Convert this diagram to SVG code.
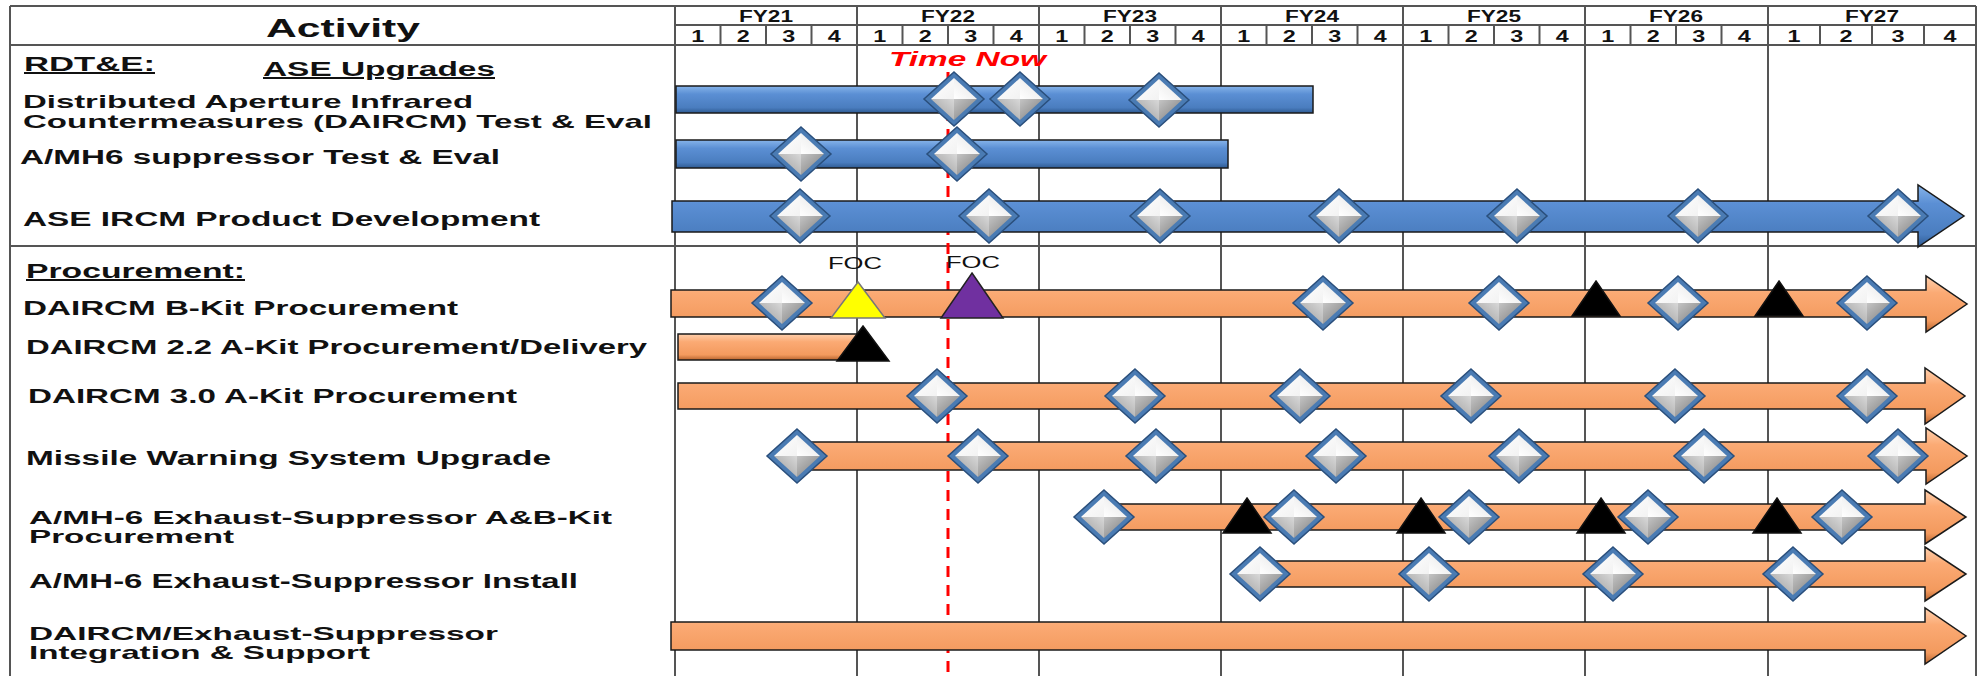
<svg xmlns="http://www.w3.org/2000/svg" xmlns:xlink="http://www.w3.org/1999/xlink" width="1980" height="676" viewBox="0 0 1980 676">
  <defs>
    <style>
      .grid { stroke: #555; stroke-width: 2; fill: none; }
      .qdiv { stroke: #555; stroke-width: 2; }
      .hdr { font-family: "Liberation Sans", Arial, sans-serif; font-weight: bold; fill: #111; }
      .lbl { font-family: "Liberation Sans", Arial, sans-serif; font-weight: bold; font-size: 20px; fill: #111; }
      .ul { text-decoration: underline; }
      .foc { font-family: "Liberation Sans", Arial, sans-serif; font-size: 17px; fill: #111; }
      .now { font-family: "Liberation Sans", Arial, sans-serif; font-weight: bold; font-style: italic; font-size: 21px; fill: #ff0000; }
      .nowline { stroke: #ff0000; stroke-width: 3; stroke-dasharray: 11 8; }
      .blue { fill: url(#gBlue); stroke: #1a1a1a; stroke-width: 1.5; }
      .orange { fill: url(#gOrange); stroke: #1a1a1a; stroke-width: 1.5; }
    </style>
    <linearGradient id="gBlue" x1="0" y1="0" x2="0" y2="1">
      <stop offset="0" stop-color="#86b4ea"/>
      <stop offset="0.3" stop-color="#5b8fd4"/>
      <stop offset="0.8" stop-color="#4a7dbf"/>
      <stop offset="1" stop-color="#2e5a92"/>
    </linearGradient>
    <linearGradient id="gOrange" x1="0" y1="0" x2="0" y2="1">
      <stop offset="0" stop-color="#ffd0ad"/>
      <stop offset="0.3" stop-color="#fbaa74"/>
      <stop offset="0.8" stop-color="#f39a5e"/>
      <stop offset="1" stop-color="#b8642e"/>
    </linearGradient>
    <linearGradient id="gTL" x1="0" y1="0" x2="1" y2="1">
      <stop offset="0" stop-color="#ffffff"/>
      <stop offset="1" stop-color="#f2f2f2"/>
    </linearGradient>
    <linearGradient id="gTR" x1="1" y1="0" x2="0" y2="1">
      <stop offset="0" stop-color="#e3e3e3"/>
      <stop offset="1" stop-color="#ffffff"/>
    </linearGradient>
    <linearGradient id="gBL" x1="0" y1="1" x2="1" y2="0">
      <stop offset="0" stop-color="#9a9a9a"/>
      <stop offset="1" stop-color="#d8d8d8"/>
    </linearGradient>
    <linearGradient id="gBR" x1="1" y1="1" x2="0" y2="0">
      <stop offset="0" stop-color="#7a7a7a"/>
      <stop offset="1" stop-color="#c4c4c4"/>
    </linearGradient>
    <!-- milestone diamond, centred on 0,0 -->
    <g id="dia">
      <polygon points="0,-27 30,0 0,27 -30,0" fill="#4a7bb3" stroke="#2a4f7c" stroke-width="1.5"/>
      <polygon points="0,-21 -23,0 0,0" fill="url(#gTL)"/>
      <polygon points="0,-21 23,0 0,0" fill="url(#gTR)"/>
      <polygon points="-23,0 0,21 0,0" fill="url(#gBL)"/>
      <polygon points="23,0 0,21 0,0" fill="url(#gBR)"/>
    </g>
    <!-- event triangle (fill set per use), apex at 0,0 -->
    <polygon id="tri" points="0,0 24,35 -24,35" stroke="#111" stroke-width="1.5"/>
  </defs>

  <rect x="0" y="0" width="1980" height="676" fill="#ffffff"/>

  <!-- table frame and time axis -->
  <g id="grid">
    <line class="grid" x1="10" y1="6" x2="1976" y2="6"/>
    <line class="grid" x1="10" y1="6" x2="10" y2="676"/>
    <line class="grid" x1="1976" y1="6" x2="1976" y2="676"/>
    <line class="grid" x1="675" y1="6" x2="675" y2="676"/>
    <line class="grid" x1="675" y1="25" x2="1976" y2="25"/>
    <line class="grid" x1="10" y1="45" x2="1976" y2="45"/>
    <line class="grid" x1="10" y1="246" x2="1976" y2="246" stroke="#222" stroke-width="2.5"/>
    <line class="grid" x1="857" y1="6" x2="857" y2="676" stroke="#222"/>
    <line class="grid" x1="1039" y1="6" x2="1039" y2="676"/>
    <line class="grid" x1="1221" y1="6" x2="1221" y2="676" stroke="#222"/>
    <line class="grid" x1="1403" y1="6" x2="1403" y2="676"/>
    <line class="grid" x1="1585" y1="6" x2="1585" y2="676" stroke="#222"/>
    <line class="grid" x1="1768" y1="6" x2="1768" y2="676"/>
    <!-- quarter dividers -->
    <g class="qdiv">
      <line x1="720.5" y1="25" x2="720.5" y2="45"/><line x1="766" y1="25" x2="766" y2="45"/><line x1="811.5" y1="25" x2="811.5" y2="45"/>
      <line x1="902.5" y1="25" x2="902.5" y2="45"/><line x1="948" y1="25" x2="948" y2="45"/><line x1="993.5" y1="25" x2="993.5" y2="45"/>
      <line x1="1084.5" y1="25" x2="1084.5" y2="45"/><line x1="1130" y1="25" x2="1130" y2="45"/><line x1="1175.5" y1="25" x2="1175.5" y2="45"/>
      <line x1="1266.5" y1="25" x2="1266.5" y2="45"/><line x1="1312" y1="25" x2="1312" y2="45"/><line x1="1357.5" y1="25" x2="1357.5" y2="45"/>
      <line x1="1448.5" y1="25" x2="1448.5" y2="45"/><line x1="1494" y1="25" x2="1494" y2="45"/><line x1="1539.5" y1="25" x2="1539.5" y2="45"/>
      <line x1="1630.5" y1="25" x2="1630.5" y2="45"/><line x1="1676" y1="25" x2="1676" y2="45"/><line x1="1721.5" y1="25" x2="1721.5" y2="45"/>
      <line x1="1820" y1="25" x2="1820" y2="45"/><line x1="1872" y1="25" x2="1872" y2="45"/><line x1="1924" y1="25" x2="1924" y2="45"/>
    </g>
    <!-- fiscal years -->
    <g class="hdr" font-size="16" text-anchor="middle">
      <text x="766" y="22" textLength="54" lengthAdjust="spacingAndGlyphs">FY21</text>
      <text x="948" y="22" textLength="54" lengthAdjust="spacingAndGlyphs">FY22</text>
      <text x="1130" y="22" textLength="54" lengthAdjust="spacingAndGlyphs">FY23</text>
      <text x="1312" y="22" textLength="54" lengthAdjust="spacingAndGlyphs">FY24</text>
      <text x="1494" y="22" textLength="54" lengthAdjust="spacingAndGlyphs">FY25</text>
      <text x="1676" y="22" textLength="54" lengthAdjust="spacingAndGlyphs">FY26</text>
      <text x="1872" y="22" textLength="54" lengthAdjust="spacingAndGlyphs">FY27</text>
    </g>
    <!-- quarters: each digit widened to the slide's stretched proportions -->
    <g class="hdr" font-size="17" text-anchor="middle">
      <text x="697.75" y="42" textLength="13" lengthAdjust="spacingAndGlyphs">1</text><text x="743.25" y="42" textLength="13" lengthAdjust="spacingAndGlyphs">2</text><text x="788.75" y="42" textLength="13" lengthAdjust="spacingAndGlyphs">3</text><text x="834.25" y="42" textLength="13" lengthAdjust="spacingAndGlyphs">4</text>
      <text x="879.75" y="42" textLength="13" lengthAdjust="spacingAndGlyphs">1</text><text x="925.25" y="42" textLength="13" lengthAdjust="spacingAndGlyphs">2</text><text x="970.75" y="42" textLength="13" lengthAdjust="spacingAndGlyphs">3</text><text x="1016.25" y="42" textLength="13" lengthAdjust="spacingAndGlyphs">4</text>
      <text x="1061.75" y="42" textLength="13" lengthAdjust="spacingAndGlyphs">1</text><text x="1107.25" y="42" textLength="13" lengthAdjust="spacingAndGlyphs">2</text><text x="1152.75" y="42" textLength="13" lengthAdjust="spacingAndGlyphs">3</text><text x="1198.25" y="42" textLength="13" lengthAdjust="spacingAndGlyphs">4</text>
      <text x="1243.75" y="42" textLength="13" lengthAdjust="spacingAndGlyphs">1</text><text x="1289.25" y="42" textLength="13" lengthAdjust="spacingAndGlyphs">2</text><text x="1334.75" y="42" textLength="13" lengthAdjust="spacingAndGlyphs">3</text><text x="1380.25" y="42" textLength="13" lengthAdjust="spacingAndGlyphs">4</text>
      <text x="1425.75" y="42" textLength="13" lengthAdjust="spacingAndGlyphs">1</text><text x="1471.25" y="42" textLength="13" lengthAdjust="spacingAndGlyphs">2</text><text x="1516.75" y="42" textLength="13" lengthAdjust="spacingAndGlyphs">3</text><text x="1562.25" y="42" textLength="13" lengthAdjust="spacingAndGlyphs">4</text>
      <text x="1607.75" y="42" textLength="13" lengthAdjust="spacingAndGlyphs">1</text><text x="1653.25" y="42" textLength="13" lengthAdjust="spacingAndGlyphs">2</text><text x="1698.75" y="42" textLength="13" lengthAdjust="spacingAndGlyphs">3</text><text x="1744.25" y="42" textLength="13" lengthAdjust="spacingAndGlyphs">4</text>
      <text x="1794" y="42" textLength="13" lengthAdjust="spacingAndGlyphs">1</text><text x="1846" y="42" textLength="13" lengthAdjust="spacingAndGlyphs">2</text><text x="1898" y="42" textLength="13" lengthAdjust="spacingAndGlyphs">3</text><text x="1950" y="42" textLength="13" lengthAdjust="spacingAndGlyphs">4</text>
    </g>
    <text class="hdr" x="266" y="37" font-size="26" textLength="154" lengthAdjust="spacingAndGlyphs">Activity</text>
  </g>

  <!-- current-date marker -->
  <g id="time-now">
    <line class="nowline" x1="948" y1="72" x2="948" y2="676"/>
    <text class="now" x="889" y="66" textLength="157" lengthAdjust="spacingAndGlyphs">Time Now</text>
  </g>

  <!-- activity labels -->
  <g id="labels" class="lbl">
    <text class="ul" x="24" y="71" textLength="131" lengthAdjust="spacingAndGlyphs">RDT&amp;E:</text>
    <text class="ul" x="263" y="76" textLength="232" lengthAdjust="spacingAndGlyphs">ASE Upgrades</text>
    <text x="23" y="108" font-size="19" textLength="450" lengthAdjust="spacingAndGlyphs">Distributed Aperture Infrared</text>
    <text x="23" y="128" font-size="19" textLength="629" lengthAdjust="spacingAndGlyphs">Countermeasures (DAIRCM)  Test &amp; Eval</text>
    <text x="20" y="164" textLength="480" lengthAdjust="spacingAndGlyphs">A/MH6 suppressor Test &amp; Eval</text>
    <text x="23" y="226" textLength="517" lengthAdjust="spacingAndGlyphs">ASE IRCM Product Development</text>
    <text class="ul" x="26" y="278" textLength="219" lengthAdjust="spacingAndGlyphs">Procurement:</text>
    <text x="23" y="315" textLength="435" lengthAdjust="spacingAndGlyphs">DAIRCM B-Kit Procurement</text>
    <text x="26" y="354" textLength="621" lengthAdjust="spacingAndGlyphs">DAIRCM 2.2 A-Kit Procurement/Delivery</text>
    <text x="28" y="403" textLength="489" lengthAdjust="spacingAndGlyphs">DAIRCM 3.0 A-Kit Procurement</text>
    <text x="26" y="465" textLength="525" lengthAdjust="spacingAndGlyphs">Missile Warning System Upgrade</text>
    <text x="29" y="524" font-size="19" textLength="583" lengthAdjust="spacingAndGlyphs">A/MH-6 Exhaust-Suppressor A&amp;B-Kit</text>
    <text x="29" y="543" font-size="19" textLength="205" lengthAdjust="spacingAndGlyphs">Procurement</text>
    <text x="29" y="588" textLength="549" lengthAdjust="spacingAndGlyphs">A/MH-6 Exhaust-Suppressor Install</text>
    <text x="29" y="640" font-size="19" textLength="469" lengthAdjust="spacingAndGlyphs">DAIRCM/Exhaust-Suppressor</text>
    <text x="29" y="659" font-size="19" textLength="341" lengthAdjust="spacingAndGlyphs">Integration &amp; Support</text>
  </g>

  <!-- RDT&E bars -->
  <g id="rdte-daircm">
    <rect class="blue" x="676" y="86" width="637" height="27"/>
    <use xlink:href="#dia" x="954" y="99"/>
    <use xlink:href="#dia" x="1020" y="99"/>
    <use xlink:href="#dia" x="1159" y="100"/>
  </g>
  <g id="rdte-amh6">
    <rect class="blue" x="676" y="140" width="552" height="28"/>
    <use xlink:href="#dia" x="801" y="154"/>
    <use xlink:href="#dia" x="957" y="154"/>
  </g>
  <g id="rdte-ircm">
    <path class="blue" d="M672,201 H1918 V185 L1964,216 L1918,247 V232 H672 Z"/>
    <use xlink:href="#dia" x="800" y="216"/>
    <use xlink:href="#dia" x="989" y="216"/>
    <use xlink:href="#dia" x="1160" y="216"/>
    <use xlink:href="#dia" x="1339" y="216"/>
    <use xlink:href="#dia" x="1517" y="216"/>
    <use xlink:href="#dia" x="1698" y="216"/>
    <use xlink:href="#dia" x="1898" y="216"/>
  </g>

  <!-- procurement bars -->
  <g id="proc-bkit">
    <path class="orange" d="M671,290 H1926 V276 L1967,304 L1926,332 V317 H671 Z"/>
    <use xlink:href="#dia" x="782" y="303"/>
    <use xlink:href="#dia" x="1323" y="303"/>
    <use xlink:href="#dia" x="1499" y="303"/>
    <use xlink:href="#dia" x="1678" y="303"/>
    <use xlink:href="#dia" x="1867" y="303"/>
    <polygon points="858,282 885,318 831,318" fill="#ffff00" stroke="#777" stroke-width="1.5"/>
    <polygon points="972,273 1003,318 941,318" fill="#7030a0" stroke="#222" stroke-width="1.5"/>
    <use xlink:href="#tri" x="1596" y="281" fill="#000"/>
    <use xlink:href="#tri" x="1779" y="281" fill="#000"/>
    <text class="foc" x="855" y="269" text-anchor="middle" textLength="54" lengthAdjust="spacingAndGlyphs">FOC</text>
    <text class="foc" x="973" y="268" text-anchor="middle" textLength="54" lengthAdjust="spacingAndGlyphs">FOC</text>
  </g>
  <g id="proc-22akit">
    <rect class="orange" x="678" y="334" width="182" height="26"/>
    <polygon points="863,326 889,361 837,361" fill="#000" stroke="#111" stroke-width="1.5"/>
  </g>
  <g id="proc-30akit">
    <path class="orange" d="M678,383 H1925 V368 L1965,396 L1925,424 V409 H678 Z"/>
    <use xlink:href="#dia" x="937" y="396"/>
    <use xlink:href="#dia" x="1135" y="396"/>
    <use xlink:href="#dia" x="1300" y="396"/>
    <use xlink:href="#dia" x="1471" y="396"/>
    <use xlink:href="#dia" x="1675" y="396"/>
    <use xlink:href="#dia" x="1867" y="396"/>
  </g>
  <g id="proc-mws">
    <path class="orange" d="M784,442 H1926 V428 L1967,456 L1926,484 V470 H784 Z"/>
    <use xlink:href="#dia" x="797" y="456"/>
    <use xlink:href="#dia" x="978" y="456"/>
    <use xlink:href="#dia" x="1156" y="456"/>
    <use xlink:href="#dia" x="1336" y="456"/>
    <use xlink:href="#dia" x="1519" y="456"/>
    <use xlink:href="#dia" x="1704" y="456"/>
    <use xlink:href="#dia" x="1898" y="456"/>
  </g>
  <g id="proc-amh6-kits">
    <path class="orange" d="M1114,504 H1925 V490 L1966,517 L1925,544 V530 H1114 Z"/>
    <use xlink:href="#dia" x="1104" y="517"/>
    <use xlink:href="#tri" x="1247" y="498" fill="#000"/>
    <use xlink:href="#dia" x="1294" y="517"/>
    <use xlink:href="#tri" x="1421" y="498" fill="#000"/>
    <use xlink:href="#dia" x="1469" y="517"/>
    <use xlink:href="#tri" x="1601" y="498" fill="#000"/>
    <use xlink:href="#dia" x="1648" y="517"/>
    <use xlink:href="#tri" x="1777" y="498" fill="#000"/>
    <use xlink:href="#dia" x="1842" y="517"/>
  </g>
  <g id="proc-amh6-install">
    <path class="orange" d="M1270,561 H1925 V547 L1966,574 L1925,601 V587 H1270 Z"/>
    <use xlink:href="#dia" x="1260" y="574"/>
    <use xlink:href="#dia" x="1429" y="574"/>
    <use xlink:href="#dia" x="1613" y="574"/>
    <use xlink:href="#dia" x="1793" y="574"/>
  </g>
  <g id="proc-integration">
    <path class="orange" d="M671,622 H1925 V608 L1966,636 L1925,664 V650 H671 Z"/>
  </g>
</svg>
